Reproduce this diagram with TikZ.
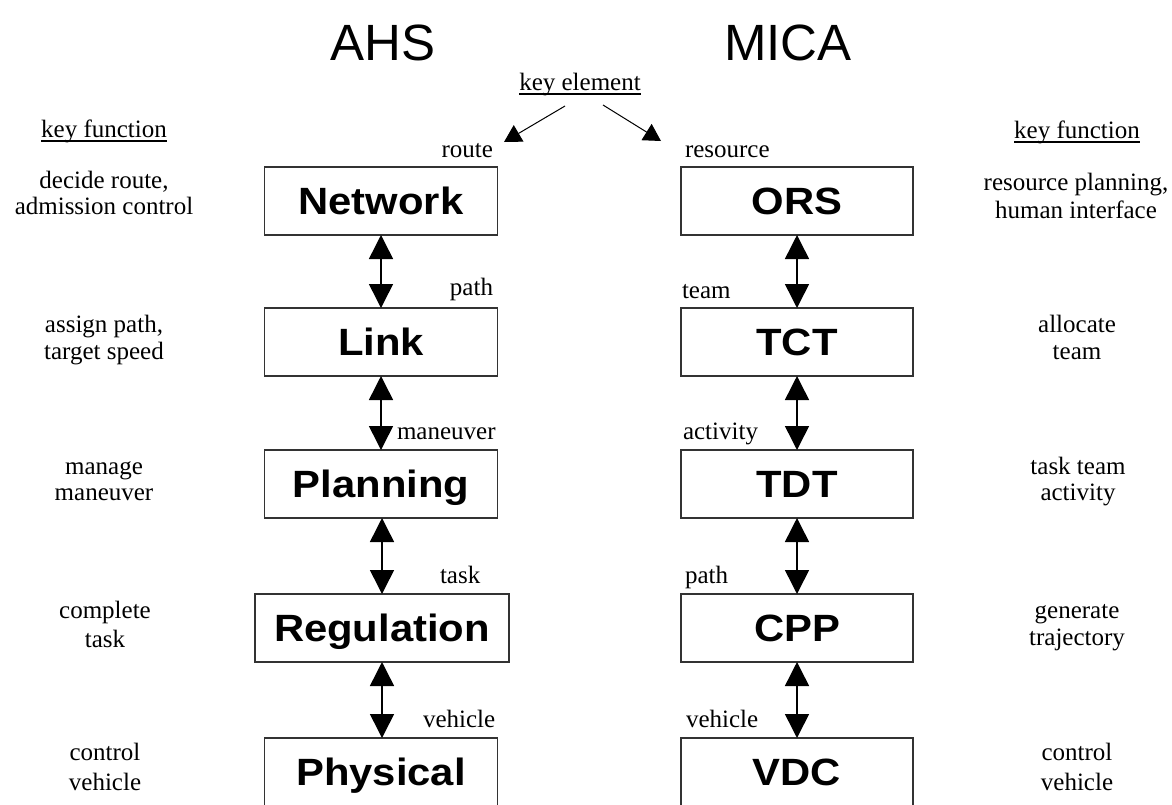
\documentclass[tikz,border=0pt]{standalone}
\usepackage{fontspec}
\usepackage{graphicx}
\setmainfont{Liberation Serif}
\newfontfamily\headsans{Liberation Sans}
\usetikzlibrary{arrows.meta}

\begin{document}
\begin{tikzpicture}[x=1pt,y=-1pt,
  every node/.style={inner sep=0pt, outer sep=0pt},
  title/.style={font=\headsans\fontsize{51}{51}\selectfont, anchor=base},
  layer/.style={draw=black!80, line width=1.1pt, minimum height=68pt,
    text height=27pt, text depth=0pt,
    font=\headsans\bfseries\fontsize{38}{38}\selectfont},
  fn/.style={font=\fontsize{25}{25}\selectfont, anchor=base},
  elem/.style={font=\fontsize{25}{25}\selectfont},
  biarrow/.style={line width=1.5pt,
    {Triangle[length=24pt,width=24pt]}-{Triangle[length=24pt,width=24pt]}},
  pick/.style={line width=1pt, -{Triangle[length=17pt,width=19pt]}},
  uline/.style={line width=1.1pt}]
\useasboundingbox (0,0) rectangle (1172,804);
\clip (0,0) rectangle (1172,804);

% column titles
\node[title] (ahs) at (383,60) {AHS};
\node[title] (mica) at (788,60) {MICA};

% key element and its two branches
\node[elem, anchor=base] (keyel) at (580,90) {key element};
\draw[uline] ([yshift=-4pt]keyel.base west) -- ([yshift=-4pt]keyel.base east);
\coordinate (kl0) at (565,106);
\coordinate (kl1) at (504,142);
\coordinate (kr0) at (603,105);
\coordinate (kr1) at (661,141);
\draw[pick] (kl0) -- (kl1);
\draw[pick] (kr0) -- (kr1);

% AHS layers
\node[layer, minimum width=233pt] (net)  at (381,201) {\scalebox{1.1}[1]{Network}};
\node[layer, minimum width=233pt] (lnk)  at (381,342) {\scalebox{1.1}[1]{Link}};
\node[layer, minimum width=233pt] (plan) at (381,484) {\scalebox{1.1}[1]{Planning}};
\node[layer, minimum width=254pt] (reg)  at (382,628) {\scalebox{1.1}[1]{Regulation}};
\node[layer, minimum width=233pt] (phys) at (381,772) {\scalebox{1.1}[1]{Physical}};

% MICA layers
\node[layer, minimum width=232pt] (ors) at (797,201) {\scalebox{1.1}[1]{ORS}};
\node[layer, minimum width=232pt] (tct) at (797,342) {\scalebox{1.1}[1]{TCT}};
\node[layer, minimum width=232pt] (tdt) at (797,484) {\scalebox{1.1}[1]{TDT}};
\node[layer, minimum width=232pt] (cpp) at (797,628) {\scalebox{1.1}[1]{CPP}};
\node[layer, minimum width=232pt] (vdc) at (797,772) {\scalebox{1.1}[1]{VDC}};

% two-way links between layers
\draw[biarrow] (net) -- (lnk);
\draw[biarrow] (lnk) -- (plan);
\draw[biarrow] (plan.south -| reg.north) -- (reg);
\draw[biarrow] (reg) -- (phys.north -| reg.south);
\draw[biarrow] (ors) -- (tct);
\draw[biarrow] (tct) -- (tdt);
\draw[biarrow] (tdt) -- (cpp);
\draw[biarrow] (cpp) -- (vdc);

% key elements exchanged between layers
\node[elem, anchor=base east] (eroute) at (493,157) {route};
\node[elem, anchor=base east] (epath)  at (493,295) {path};
\node[elem, anchor=base west] (emanv)  at (397,439) {maneuver};
\node[elem, anchor=base west] (etask)  at (440,583) {task};
\node[elem, anchor=base west] (eveh)   at (423,727) {vehicle};
\node[elem, anchor=base west] (eres)   at (685,157) {resource};
\node[elem, anchor=base west] (eteam)  at (682,298) {team};
\node[elem, anchor=base west] (eact)   at (683,439) {activity};
\node[elem, anchor=base west] (epath2) at (685,583) {path};
\node[elem, anchor=base west] (eveh2)  at (686,727) {vehicle};

% key functions, AHS side
\node[fn] (kfl) at (104,137) {key function};
\draw[uline] ([yshift=-4pt]kfl.base west) -- ([yshift=-4pt]kfl.base east);
\node[fn] (fl1a) at (104,188) {decide route,};
\node[fn] (fl1b) at (104,214) {admission control};
\node[fn] (fl2a) at (104,332) {assign path,};
\node[fn] (fl2b) at (104,359) {target speed};
\node[fn] (fl3a) at (104,474) {manage};
\node[fn] (fl3b) at (104,500) {maneuver};
\node[fn] (fl4a) at (105,618) {complete};
\node[fn] (fl4b) at (105,647) {task};
\node[fn] (fl5a) at (105,760) {control};
\node[fn] (fl5b) at (105,790) {vehicle};

% key functions, MICA side
\node[fn] (kfr) at (1077,138) {key function};
\draw[uline] ([yshift=-4pt]kfr.base west) -- ([yshift=-4pt]kfr.base east);
\node[fn] (fr1a) at (1076,190) {resource planning,};
\node[fn] (fr1b) at (1076,218) {human interface};
\node[fn] (fr2a) at (1077,332) {allocate};
\node[fn] (fr2b) at (1077,359) {team};
\node[fn] (fr3a) at (1078,474) {task team};
\node[fn] (fr3b) at (1078,500) {activity};
\node[fn] (fr4a) at (1077,618) {generate};
\node[fn] (fr4b) at (1077,645) {trajectory};
\node[fn] (fr5a) at (1077,760) {control};
\node[fn] (fr5b) at (1077,790) {vehicle};
\end{tikzpicture}
\end{document}
